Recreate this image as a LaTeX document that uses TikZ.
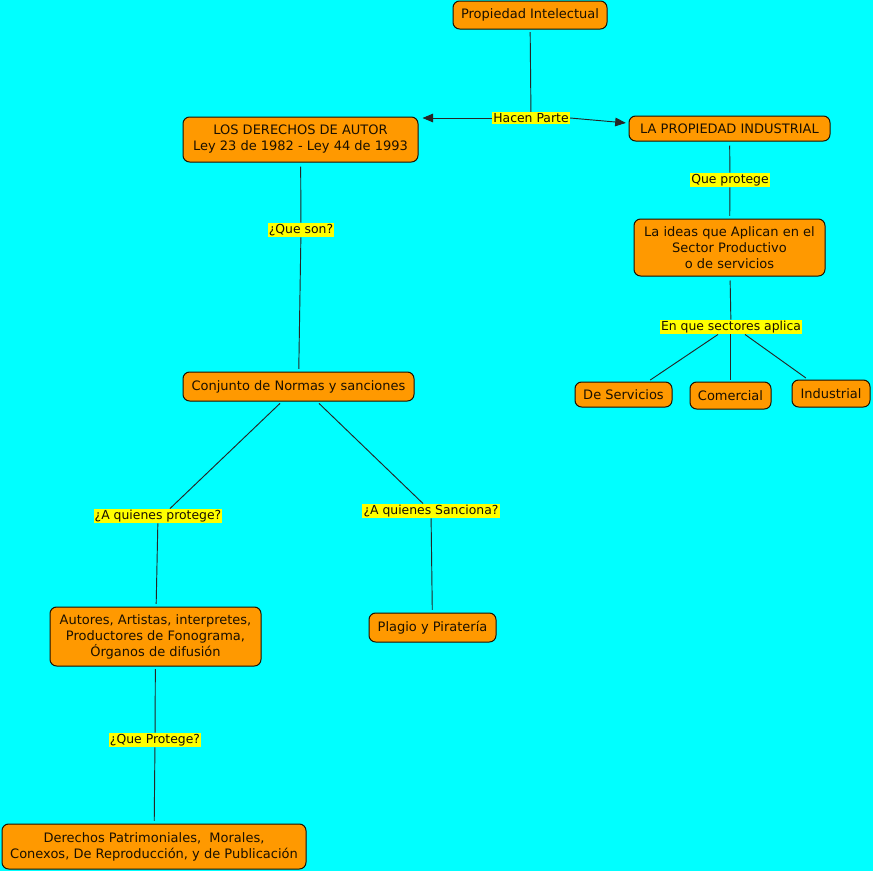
\documentclass[tikz,border=0pt]{standalone}
\usepackage{fontspec}
\setmainfont{DejaVu Sans}
\usetikzlibrary{arrows.meta}
\definecolor{bg}{HTML}{00FFFF}
\definecolor{boxc}{HTML}{FF9900}
\definecolor{labc}{HTML}{FFFF00}
\definecolor{ink}{HTML}{1A1000}
\begin{document}
\begin{tikzpicture}[x=0.75pt,y=-0.75pt,
 sz/.style 2 args={minimum width=#1*0.75pt, minimum height=#2*0.75pt},
 concept/.style={draw=ink, fill=boxc, text=ink, rounded corners=5pt, align=center, inner sep=0pt, line width=0.75pt, font=\fontsize{9.75}{12}\selectfont},
 linkl/.style={fill=labc, text=ink, inner sep=0.9pt, font=\fontsize{9.3}{11}\selectfont},
 conn/.style={draw=black!85, line width=0.7pt},
 tip/.style={-{Triangle[length=8pt,width=6.5pt]}}]
\useasboundingbox (0,0) rectangle (873,871);
\fill[bg] (0,0) rectangle (873,871);

\node[concept, sz={154}{28}] (pi) at (530,15) {Propiedad Intelectual};
\node[concept, sz={235}{45}] (da) at (300.5,139.5) {LOS DERECHOS DE AUTOR\\Ley 23 de 1982 - Ley 44 de 1993};
\node[concept, sz={201}{25}] (lpi) at (729.5,128.5) {LA PROPIEDAD INDUSTRIAL};
\node[concept, sz={191}{57}] (ideas) at (729.5,247.5) {La ideas que Aplican en el\\Sector Productivo\\o de servicios};
\node[concept, sz={97}{25}] (ds) at (623.5,394.5) {De Servicios};
\node[concept, sz={81}{27}] (com) at (730.5,395.5) {Comercial};
\node[concept, sz={78}{27}] (ind) at (831,393.5) {Industrial};
\node[concept, sz={231}{29}] (cn) at (298.5,386.5) {Conjunto de Normas y sanciones};
\node[concept, sz={211}{59}] (aut) at (155.5,636.5) {Autores, Artistas, interpretes,\\Productores de Fonograma,\\Órganos de difusión};
\node[concept, sz={127}{29}] (pp) at (432.5,627.5) {Plagio y Piratería};
\node[concept, sz={304}{45}] (der) at (154,846.5) {Derechos Patrimoniales,\ \ Morales,\\Conexos, De Reproducción, y de Publicación};

\node[linkl] (hp) at (531,118) {Hacen Parte};
\node[linkl] (qp) at (730,180) {Que protege};
\node[linkl] (es) at (731,327) {En que sectores aplica};
\node[linkl] (qs) at (301,230) {¿Que son?};
\node[linkl] (aqp) at (158,516) {¿A quienes protege?};
\node[linkl] (aqs) at (431,511) {¿A quienes Sanciona?};
\node[linkl] (qpr) at (155,740) {¿Que Protege?};

\draw[conn, shorten <=2pt] (pi) -- (hp);
\draw[conn, tip, shorten >=3pt] (hp.west) -- (da.east |- hp.west);
\draw[conn, tip, shorten >=2pt] (hp.east) -- ([yshift=4pt]lpi.west);

\draw[conn, shorten <=3pt] (lpi) -- (qp);
\draw[conn, shorten >=2pt] (qp) -- (ideas);
\draw[conn, shorten <=3pt] (ideas) -- (es);
\draw[conn, shorten >=2pt] ([xshift=-9.75pt]es.south) -- ([xshift=18.4pt]ds.north);
\draw[conn, shorten >=1pt] (es.south -| com.north) -- (com.north);
\draw[conn, shorten >=2pt] ([xshift=10.5pt]es.south) -- ([xshift=-17.25pt]ind.north);

\draw[conn, shorten <=3pt] (da) -- (qs);
\draw[conn, shorten >=2pt] (qs) -- (cn);
\draw[conn, shorten <=2pt] ([xshift=-12.4pt]cn.south) -- ([xshift=9pt]aqp.north);
\draw[conn, shorten <=2pt] ([xshift=13.9pt]cn.south) -- ([xshift=-6pt]aqs.north);
\draw[conn, shorten >=2pt] (aqp) -- (aut);
\draw[conn, shorten >=2pt] (aqs) -- (pp);
\draw[conn, shorten <=2pt] (aut) -- (qpr);
\draw[conn, shorten >=2pt] (qpr) -- (der);
\end{tikzpicture}
\end{document}
